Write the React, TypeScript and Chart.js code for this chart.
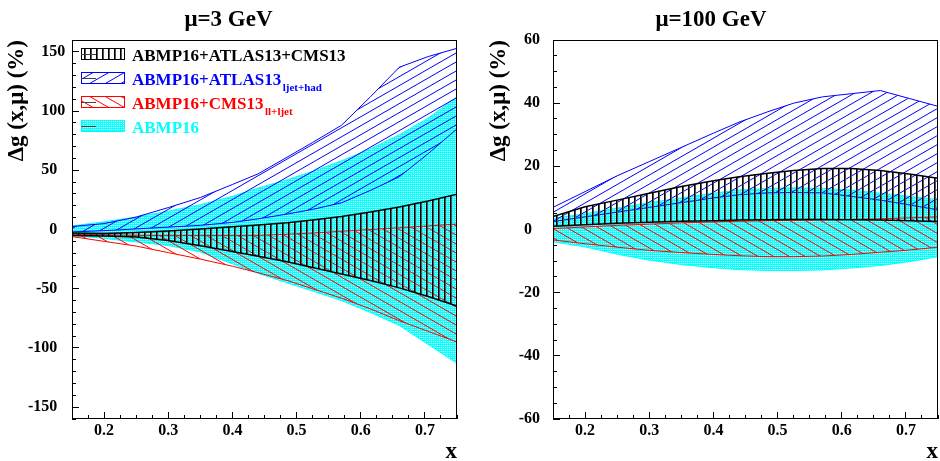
import React, { useEffect, useRef } from 'react';
import { Chart, registerables } from 'chart.js';

Chart.register(...registerables);

const FONT = '"Liberation Serif", "Times New Roman", Times, serif';

// x grid on which every band is sampled
const X_POINTS = [0.15, 0.2, 0.25, 0.3, 0.35, 0.4, 0.44, 0.485, 0.525, 0.57, 0.615, 0.66, 0.705, 0.75];

// mu = 3 GeV  (relative uncertainty in %)
const L_COMB_HI = [-3, -3.4, -2.5, -1.2, 0.5, 2.3, 3.8, 5.7, 8, 10.9, 14.7, 19, 24, 29.7];
const L_COMB_LO = [-5, -5.4, -6.4, -9.3, -13.7, -18.5, -22.5, -27.2, -32, -37.5, -43, -49.3, -56.5, -64.6];
const L_ATLAS_HI = [2.5, 5, 10.5, 18.5, 27, 38, 47, 61, 73.5, 88, 112, 137, 146, 153];
const L_ATLAS_LO = [-2, -1, 0.5, 2, 3.5, 6, 9, 13, 17, 22.5, 33, 44.5, 64, 85];
const L_CMS_HI = [-4, -4.5, -5, -5, -5, -5, -5, -4, -3, -1.5, 0, 1.5, 3, 4.6];
const L_CMS_LO = [-6, -10, -14, -19.5, -25, -31, -36.5, -43, -50, -58, -67, -77, -86, -95];
const L_ABM_HI = [3, 6.5, 10.5, 15.5, 21, 28, 35, 42, 49, 58, 68, 80, 94, 112];
const L_ABM_LO = [-5, -7.5, -10.5, -13.5, -19, -29, -37, -45, -52, -60, -70, -81, -97, -113];

// mu = 100 GeV
const R_COMB_HI = [4.1, 7.2, 9.3, 11.5, 13.6, 15.4, 16.7, 17.8, 18.7, 19.3, 19.3, 18.7, 17.6, 16.2];
const R_COMB_LO = [1, 1.5, 2, 2.3, 2.6, 2.8, 3, 3.1, 3.2, 3.2, 3.1, 3, 2.8, 2.5];
const R_ATLAS_HI = [7, 12, 17, 21.5, 26, 30.5, 34, 37.3, 40, 42, 43, 44, 41.5, 39];
const R_ATLAS_LO = [2.5, 4, 5.5, 7, 8.5, 10, 11, 11.6, 11.7, 11.6, 10.5, 9.3, 7.8, 6.2];
const R_CMS_HI = [0.3, 0.8, 1.3, 1.7, 2.1, 2.4, 2.6, 2.8, 2.9, 3, 3.2, 3.4, 3.7, 4];
const R_CMS_LO = [-3.3, -4.5, -5.6, -6.6, -7.3, -7.9, -8.3, -8.6, -8.6, -8.4, -7.9, -7.2, -6.5, -5.6];
const R_ABM_HI = [3.5, 5, 6.8, 8.5, 10, 11.5, 12.5, 13, 13.2, 13, 12.5, 11.5, 10.5, 9.5];
const R_ABM_LO = [-3.9, -5.5, -7.8, -9.7, -11.1, -12.1, -12.7, -13, -13, -12.8, -12.2, -11.4, -10.2, -8.6];

const X_TICKS = [0.2, 0.3, 0.4, 0.5, 0.6, 0.7];
const Y_TICKS_L = [-150, -100, -50, 0, 50, 100, 150];
const Y_TICKS_R = [-60, -40, -20, 0, 20, 40, 60];

const LEGEND_LABELS = ['ABMP16+ATLAS13+CMS13', 'ABMP16+ATLAS13', 'ABMP16+CMS13', 'ABMP16'];
const LEGEND_SUBS = ['', 'ljet+had', 'll+ljet', ''];
const BAND_COLORS = ['#000000', '#0000ff', '#ff0000', '#00ffff'];
const TITLES = ['\u03bc=3 GeV', '\u03bc=100 GeV'];
const Y_TITLE = '\u0394g (x,\u03bc) (%)';
const X_TITLE = 'x';

const PANELS = [
  {
    key: 'L', left: 0, width: 461, yAxisW: 72, rightPad: 4, title: TITLES[0],
    yMin: -160, yMax: 160, yTicks: Y_TICKS_L, yMinorStep: 10, yTickPad: 13.7, yTitlePad: 3.4, legend: true,
    bands: [[L_COMB_LO, L_COMB_HI], [L_ATLAS_LO, L_ATLAS_HI], [L_CMS_LO, L_CMS_HI], [L_ABM_LO, L_ABM_HI]],
    yLabel: (v: number) => (v >= 100 ? String(v) : String(v) + '\u2002'),
  },
  {
    key: 'R', left: 484, width: 456, yAxisW: 69, rightPad: 2, title: TITLES[1],
    yMin: -60, yMax: 60, yTicks: Y_TICKS_R, yMinorStep: 5, yTickPad: 20, yTitlePad: 1.1, legend: false,
    bands: [[R_COMB_LO, R_COMB_HI], [R_ATLAS_LO, R_ATLAS_HI], [R_CMS_LO, R_CMS_HI], [R_ABM_LO, R_ABM_HI]],
    yLabel: (v: number) => (v === 0 ? '0\u2002' : String(v)),
  },
];

function range(min: number, max: number, step: number) {
  const n = Math.round((max - min) / step);
  return Array.from({ length: n + 1 }, (_, i) => +(min + i * step).toFixed(6));
}

// 30 degree hatching, three lines per tile, vertical spacing S
function hatch(color: string, rising: boolean, lw: number): CanvasPattern {
  const S = 9, H = 27, W = 47;
  const c = document.createElement('canvas');
  c.width = W; c.height = H;
  const g = c.getContext('2d') as CanvasRenderingContext2D;
  g.strokeStyle = color; g.lineWidth = lw;
  for (let k = -6; k <= 12; k++) {
    g.beginPath();
    if (rising) { g.moveTo(-W, k * S + H); g.lineTo(2 * W, k * S - 2 * H); }
    else { g.moveTo(-W, k * S - H); g.lineTo(2 * W, k * S + 2 * H); }
    g.stroke();
  }
  return g.createPattern(c, 'repeat') as CanvasPattern;
}

function verticals(): CanvasPattern {
  const c = document.createElement('canvas');
  c.width = 6; c.height = 2;
  const g = c.getContext('2d') as CanvasRenderingContext2D;
  g.fillStyle = '#000'; g.fillRect(0, 0, 1, 2);
  g.fillStyle = '#555'; g.fillRect(1, 0, 1, 2);
  return g.createPattern(c, 'repeat') as CanvasPattern;
}

function dots(): CanvasPattern {
  const c = document.createElement('canvas');
  c.width = 2; c.height = 2;
  const g = c.getContext('2d') as CanvasRenderingContext2D;
  g.fillStyle = '#00ffff'; g.fillRect(0, 0, 2, 2);
  g.fillStyle = '#b8ffff'; g.fillRect(1, 1, 1, 1);
  g.fillStyle = '#40f4f4'; g.fillRect(0, 1, 1, 1);
  return g.createPattern(c, 'repeat') as CanvasPattern;
}

function buildConfig(spec: any, pats: CanvasPattern[]) {
  const orders = [1, 3, 2, 4];
  const widths = [1.5, 1, 1, 1];
  const datasets = spec.bands.flatMap(([lo, hi]: number[][], i: number) => [
    {
      label: LEGEND_LABELS[i] + ' (low)',
      data: X_POINTS.map((x, j) => ({ x, y: lo[j] })),
      borderColor: BAND_COLORS[i], borderWidth: widths[i], backgroundColor: 'rgba(0,0,0,0)',
      fill: false, pointRadius: 0, tension: 0, order: orders[i], xAxisID: 'x', yAxisID: 'y',
    },
    {
      label: LEGEND_LABELS[i],
      data: X_POINTS.map((x, j) => ({ x, y: hi[j] })),
      borderColor: BAND_COLORS[i], borderWidth: widths[i], backgroundColor: pats[i],
      fill: '-1', pointRadius: 0, tension: 0, order: orders[i], xAxisID: 'x', yAxisID: 'y',
    },
  ]);

  const tickFont = { family: FONT, size: 16, weight: 'bold' as const };
  const titleFont = { family: FONT, size: 23, weight: 'bold' as const };
  const xMinor = range(0.15, 0.75, 0.025);
  const yMinor = range(spec.yMin, spec.yMax, spec.yMinorStep);

  const framePlugin = {
    id: 'frame' + spec.key,
    afterDraw(chart: any) {
      const { left, top, right, bottom } = chart.chartArea;
      const ctx = chart.ctx;
      ctx.save();
      ctx.strokeStyle = '#000';
      ctx.lineWidth = 1;
      ctx.strokeRect(Math.round(left) + 0.5, Math.round(top) + 0.5, Math.round(right - left) - 1, Math.round(bottom - top) - 1);
      ctx.restore();
    },
  };

  const legendPlugin = {
    id: 'bandLegend' + spec.key,
    afterDraw(chart: any) {
      if (!spec.legend) return;
      const ca = chart.chartArea;
      const ctx = chart.ctx;
      const bx = ca.left + 9, by0 = ca.top + 8, step = 24, bw = 44, bh = 12;
      for (let i = 0; i < LEGEND_LABELS.length; i++) {
        const y = by0 + i * step;
        ctx.save();
        ctx.fillStyle = '#fff';
        ctx.fillRect(bx, y, bw, bh);
        ctx.fillStyle = pats[i];
        ctx.fillRect(bx, y, bw, bh);
        ctx.strokeStyle = BAND_COLORS[i];
        ctx.lineWidth = 1;
        ctx.strokeRect(bx + 0.5, y + 0.5, bw - 1, bh - 1);
        ctx.strokeStyle = '#444';
        ctx.beginPath();
        ctx.moveTo(bx, y + bh / 2 + 0.5);
        ctx.lineTo(bx + 15, y + bh / 2 + 0.5);
        ctx.stroke();
        ctx.fillStyle = BAND_COLORS[i];
        ctx.font = `bold 17px ${FONT}`;
        ctx.textAlign = 'left';
        ctx.textBaseline = 'alphabetic';
        const tx = bx + 51;
        const base = y + 12.5;
        ctx.fillText(LEGEND_LABELS[i], tx, base);
        if (LEGEND_SUBS[i]) {
          const w = ctx.measureText(LEGEND_LABELS[i]).width;
          ctx.font = `bold 11px ${FONT}`;
          ctx.fillText(LEGEND_SUBS[i], tx + w + 1.5, base + 6);
        }
        ctx.restore();
      }
    },
  };

  return {
    type: 'line' as const,
    data: { datasets },
    plugins: [framePlugin, legendPlugin],
    options: {
      responsive: false,
      animation: false as const,
      devicePixelRatio: 1,
      events: [],
      layout: { padding: { left: 0, right: spec.rightPad, top: 0, bottom: 0 } },
      plugins: {
        legend: { display: false },
        tooltip: { enabled: false },
        title: {
          display: true, text: spec.title, color: '#000', font: titleFont,
          padding: { top: 6, bottom: 6.4 },
        },
      },
      scales: {
        x: {
          type: 'linear', position: 'bottom', min: 0.15, max: 0.75, weight: 1, z: 1,
          afterBuildTicks: (s: any) => { s.ticks = X_TICKS.map((v) => ({ value: v })); },
          afterFit: (s: any) => { s.height = 42; },
          ticks: {
            padding: 9.4, font: tickFont, color: '#000', autoSkip: false, maxRotation: 0, minRotation: 0,
            callback: (v: any) => Number(v).toFixed(1),
          },
          grid: { drawOnChartArea: false, drawTicks: true, tickLength: -7, color: '#000', tickColor: '#000', tickWidth: 1 },
          border: { display: false },
          title: { display: true, text: X_TITLE, align: 'end', color: '#000', font: titleFont, padding: { top: 0, bottom: -4.4 } },
        },
        x2: {
          type: 'linear', position: 'bottom', min: 0.15, max: 0.75, weight: 0, z: 1,
          afterBuildTicks: (s: any) => { s.ticks = xMinor.map((v) => ({ value: v })); },
          afterFit: (s: any) => { s.height = 0; },
          ticks: { display: false, autoSkip: false },
          grid: { drawOnChartArea: false, drawTicks: true, tickLength: -4, color: '#000', tickColor: '#000', tickWidth: 1 },
          border: { display: false },
        },
        y: {
          type: 'linear', position: 'left', min: spec.yMin, max: spec.yMax, weight: 1, z: 1,
          afterBuildTicks: (s: any) => { s.ticks = spec.yTicks.map((v: number) => ({ value: v })); },
          afterFit: (s: any) => { s.width = spec.yAxisW; },
          ticks: {
            padding: spec.yTickPad, font: tickFont, color: '#000', autoSkip: false,
            callback: (v: any) => spec.yLabel(Number(v)),
          },
          grid: { drawOnChartArea: false, drawTicks: true, tickLength: -7, color: '#000', tickColor: '#000', tickWidth: 1 },
          border: { display: false },
          title: { display: true, text: Y_TITLE, align: 'end', color: '#000', font: titleFont, padding: { top: spec.yTitlePad, bottom: 0 } },
        },
        y2: {
          type: 'linear', position: 'left', min: spec.yMin, max: spec.yMax, weight: 0, z: 1,
          afterBuildTicks: (s: any) => { s.ticks = yMinor.map((v) => ({ value: v })); },
          afterFit: (s: any) => { s.width = 0; },
          ticks: { display: false, autoSkip: false },
          grid: { drawOnChartArea: false, drawTicks: true, tickLength: -4, color: '#000', tickColor: '#000', tickWidth: 1 },
          border: { display: false },
        },
      },
    },
  };
}

function Panel({ spec }: { spec: any }) {
  const ref = useRef<HTMLCanvasElement | null>(null);
  useEffect(() => {
    if (!ref.current) return;
    const pats = [verticals(), hatch('#0000ff', true, 1), hatch('#ff0000', false, 1), dots()];
    const chart = new Chart(ref.current, buildConfig(spec, pats) as any);
    return () => chart.destroy();
  }, [spec]);
  return (
    <canvas
      ref={ref}
      width={spec.width}
      height={461}
      style={{ position: 'absolute', left: spec.left, top: 0, width: spec.width, height: 461 }}
    />
  );
}

export default function App() {
  return (
    <div style={{ position: 'fixed', left: 0, top: 0, width: 940, height: 461, background: '#fff', overflow: 'hidden' }}>
      {PANELS.map((p) => <Panel key={p.key} spec={p} />)}
    </div>
  );
}
